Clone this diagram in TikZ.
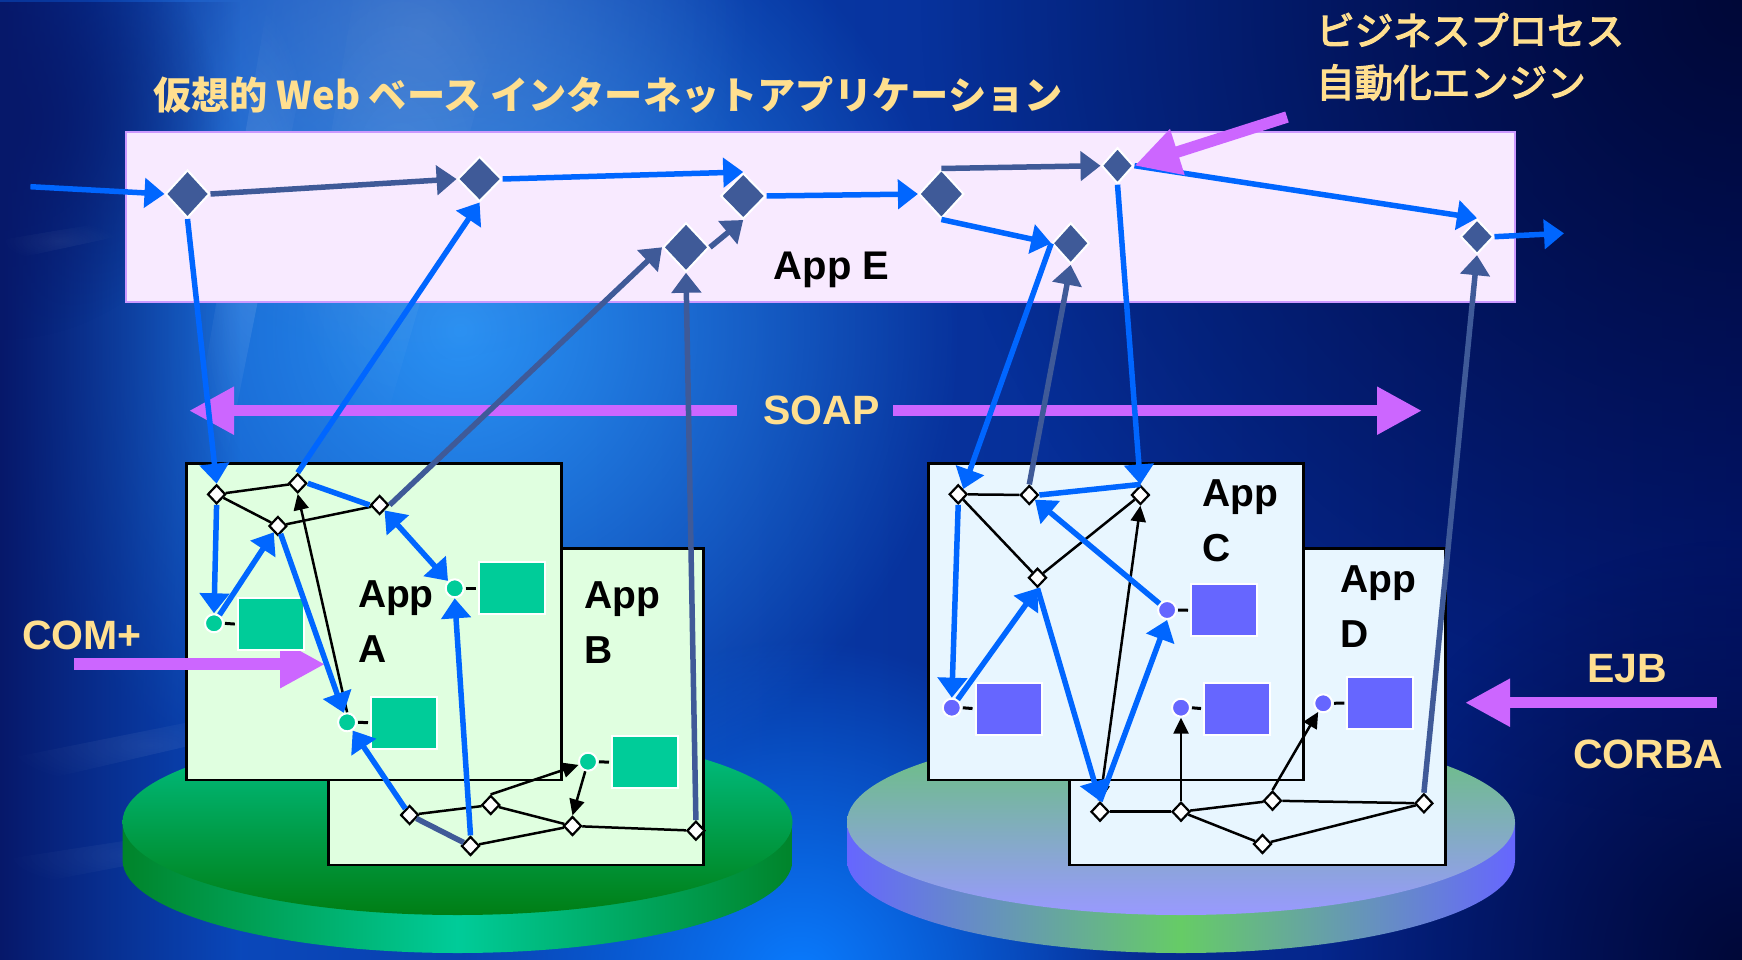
\documentclass[tikz,border=0pt]{standalone}
\usepackage{fontspec}
\setmainfont{Liberation Sans}
\newfontfamily\jpfont{Noto Sans CJK JP}
\newfontfamily\jpmedium[FakeBold=3.5]{Noto Sans CJK JP}
\usetikzlibrary{shapes.geometric,arrows.meta,fadings}

\definecolor{bgL}{HTML}{0B4FC4}
\definecolor{bgR}{HTML}{03197A}
\definecolor{glowA}{HTML}{2A92F4}
\definecolor{glowB}{HTML}{0A7CFF}
\definecolor{glowC}{HTML}{5A88D0}
\definecolor{darkA}{HTML}{000838}
\definecolor{darkB}{HTML}{06186A}
\definecolor{flowblue}{HTML}{0066FF}
\definecolor{slate}{HTML}{3F5A98}
\definecolor{orchid}{HTML}{CC66FF}
\definecolor{wheat}{HTML}{FFDF8F}
\definecolor{lilacbg}{HTML}{F8EAFF}
\definecolor{lilacline}{HTML}{CC99FF}
\definecolor{mintbg}{HTML}{E0FFE0}
\definecolor{skybg}{HTML}{E8F6FF}
\definecolor{compgreen}{HTML}{00CC99}
\definecolor{compviolet}{HTML}{6666FF}
\definecolor{discedge}{HTML}{00842A}
\definecolor{disctop}{HTML}{00C48C}
\definecolor{discbottom}{HTML}{007E14}
\definecolor{padgreen}{HTML}{66CC66}
\definecolor{padtop}{HTML}{66C474}
\definecolor{padbottom}{HTML}{9999FF}

\tikzfading[name=softglow, inner color=transparent!0, outer color=transparent!100]
\tikzfading[name=leftedge, left color=transparent!0, right color=transparent!100]

\tikzset{
  bigdia/.style 2 args={diamond, fill=slate, draw=white, line width=2pt,
    inner sep=0pt, minimum width=#1, minimum height=#2},
  smalldia/.style={diamond, fill=white, draw=black, line width=2.2pt,
    inner sep=0pt, minimum width=18, minimum height=19},
  gdot/.style={circle, fill=compgreen, draw=white, line width=2pt, inner sep=0pt, minimum size=18},
  vdot/.style={circle, fill=compviolet, draw=white, line width=2pt, inner sep=0pt, minimum size=18},
  gsq/.style={rectangle, fill=compgreen, draw=white, line width=2pt, inner sep=0pt,
    minimum width=66, minimum height=52},
  vsq/.style={rectangle, fill=compviolet, draw=white, line width=2pt, inner sep=0pt,
    minimum width=66, minimum height=52},
  appbox/.style={rectangle, draw=black, line width=2.6pt, inner sep=0pt},
  flow/.style={draw=flowblue, line width=5.5pt, -{Triangle[length=20pt,width=29pt]}},
  flowline/.style={draw=flowblue, line width=5.5pt},
  flowboth/.style={draw=flowblue, line width=5.5pt,
    {Triangle[length=20pt,width=29pt]}-{Triangle[length=20pt,width=29pt]}},
  call/.style={draw=slate, line width=5.5pt, -{Triangle[length=20pt,width=29pt]}},
  callline/.style={draw=slate, line width=5.5pt},
  link/.style={draw=black, line width=2.5pt},
  linkarrow/.style={draw=black, line width=2.5pt, -{Triangle[length=16pt,width=15pt]}},
  linkboth/.style={draw=black, line width=2.5pt,
    {Triangle[length=16pt,width=15pt]}-{Triangle[length=16pt,width=15pt]}},
  stub/.style={draw=black, line width=3pt, shorten <=1pt, shorten >=2pt},
  bigarrow/.style={draw=orchid, line width=11.5pt, -{Triangle[length=45pt,width=45pt]}},
  applabel/.style={anchor=north west, inner sep=0pt, align=left,
    font=\fontsize{39}{55}\selectfont\bfseries},
  tag/.style={inner sep=0pt, text=wheat, font=\fontsize{41}{48}\selectfont\bfseries},
}

\begin{document}
\begin{tikzpicture}[x=1pt,y=-1pt]
\useasboundingbox (0,0) rectangle (1742,960);

% ---------- backdrop ----------
\shade[left color=bgL, right color=bgR] (0,0) rectangle (1742,960);
\fill[glowA, path fading=softglow] (460,330) circle [radius=500];
\fill[glowC, opacity=0.6, path fading=softglow] (420,30) circle [radius=330];
\fill[glowB, path fading=softglow] (800,980) circle [radius=340];
\fill[darkA, path fading=softglow] (1742,0) circle [radius=820];
\fill[darkA, path fading=softglow] (1742,960) circle [radius=420];
\fill[darkB, path fading=leftedge] (0,0) rectangle (240,960);
\fill[darkB, path fading=softglow] (0,120) circle [radius=220];
\fill[white, opacity=0.14, path fading=softglow] (268,0) -- (318,0) -- (222,480) -- (186,480) -- cycle;
\fill[white, opacity=0.08, path fading=softglow] (360,-40) -- (520,-40) -- (380,440) -- (280,440) -- cycle;
\fill[white, opacity=0.07, path fading=softglow] (0,760) -- (300,700) -- (300,720) -- (0,790) -- cycle;
\fill[white, opacity=0.06, path fading=softglow] (0,860) -- (260,820) -- (260,840) -- (0,890) -- cycle;
\fill[white, opacity=0.06, path fading=softglow] (0,240) -- (120,220) -- (120,236) -- (0,262) -- cycle;

% ---------- platforms ----------
\shade[left color=discedge, right color=discedge, middle color=compgreen]
  (122.5,822) -- (122.5,860) arc[start angle=180, end angle=0, x radius=335, y radius=93]
  -- (792.5,822) -- cycle;
\shade[top color=disctop, bottom color=discbottom] (457.5,822) ellipse [x radius=335, y radius=93];

\shade[left color=compviolet, right color=compviolet, middle color=padgreen]
  (847,822) -- (847,860) arc[start angle=180, end angle=0, x radius=334, y radius=93]
  -- (1515,822) -- cycle;
\shade[top color=padtop, bottom color=padbottom] (1181,822) ellipse [x radius=334, y radius=93];

% ---------- application panels ----------
\node[appbox, fill=mintbg, minimum width=375, minimum height=316.7] (boxB) at (516.2,706.7) {};
\node[appbox, fill=mintbg, minimum width=375, minimum height=316.7] (boxA) at (374,621.7) {};
\node[appbox, fill=skybg, minimum width=376, minimum height=316.7] (boxD) at (1257.7,706.7) {};
\node[appbox, fill=skybg, minimum width=375, minimum height=316.7] (boxC) at (1116.1,621.7) {};
\node[rectangle, fill=lilacbg, draw=lilacline, line width=2pt, inner sep=0pt,
      minimum width=1388.8, minimum height=170] (boxE) at (820.1,216.7) {};

\node[applabel] (labA) at (357.8,580) {App\\A};
\node[applabel] (labB) at (584,581) {App\\B};
\node[applabel] (labC) at (1201.8,479) {App\\C};
\node[applabel] (labD) at (1340,565) {App\\D};
\node[inner sep=0pt, anchor=north west, font=\fontsize{40}{48}\selectfont\bfseries] (labE) at (773.6,252) {App E};

% ---------- headings ----------
\node[anchor=base west, inner sep=0pt, text=wheat, font=\fontsize{38.2}{46}\selectfont\jpfont\bfseries]
  (title) at (153,110) {仮想的 Web ベース インターネットアプリケーション};
\node[anchor=base west, inner sep=0pt, text=wheat, font=\fontsize{38.5}{46}\selectfont\jpmedium]
  (engine1) at (1316,45) {ビジネスプロセス};
\node[anchor=base west, inner sep=0pt, text=wheat, font=\fontsize{38.5}{46}\selectfont\jpmedium]
  (engine2) at (1316,97) {自動化エンジン};

% ---------- protocol arrows ----------
\node[tag] (soap) at (821.6,410.7) {SOAP};
\coordinate (soapl) at (189,410.7);
\coordinate (soapr) at (1422,410.7);
\draw[bigarrow, shorten <=26.6pt] (soap.west) -- (soapl);
\draw[bigarrow, shorten <=13.4pt] (soap.east) -- (soapr);

\node[tag] (com) at (82,635) {COM+};
\coordinate (comA) at (74,664.2);
\coordinate (comB) at (325,664.2);
\draw[bigarrow] (comA) -- (comB);

\node[tag] (ejb) at (1627,669) {EJB};
\node[tag] (corba) at (1648.4,754) {CORBA};
\coordinate (ejbA) at (1716.7,702.7);
\coordinate (ejbB) at (1465,702.7);
\draw[bigarrow] (ejbA) -- (ejbB);

% ---------- process steps in App E ----------
\node[bigdia={44}{48}] (E1) at (187.5,194) {};
\node[bigdia={44}{45}] (E2) at (479.6,179) {};
\node[bigdia={45}{46}] (E3) at (743.2,196) {};
\node[bigdia={46}{49}] (E4) at (686,247.3) {};
\node[bigdia={45}{49}] (E5) at (941.4,194) {};
\node[bigdia={37}{41}] (E6) at (1070.7,243.3) {};
\node[bigdia={32}{36}] (E7) at (1117.5,165.7) {};
\node[bigdia={33}{35}] (E8) at (1477,236.7) {};
\coordinate (inE) at (30.4,186.7);
\coordinate (outE) at (1564,233.3);

% ---------- App A / App B ----------
\node[smalldia] (a1) at (216.6,494.3) {};
\node[smalldia] (a2) at (297.7,483.3) {};
\node[smalldia] (a3) at (379.6,505) {};
\node[smalldia] (a4) at (277.9,526) {};
\node[smalldia] (b1) at (409.6,815) {};
\node[smalldia] (b2) at (490.7,805) {};
\node[smalldia] (b3) at (572.5,826) {};
\node[smalldia] (b4) at (470.5,846) {};
\node[smalldia] (b5) at (695.9,830.7) {};

\node[gdot] (cA1) at (214,623.3) {};
\node[gsq] (sqA1) at (270.8,624.2) {};
\node[gdot] (cA2) at (454.7,588.3) {};
\node[gsq] (sqA2) at (512,588.3) {};
\node[gdot] (cA3) at (347.1,722.3) {};
\node[gsq] (sqA3) at (404,722.7) {};
\node[gdot] (cB1) at (588,761.7) {};
\node[gsq] (sqB1) at (645,762.3) {};

% ---------- App C / App D ----------
\node[smalldia] (c1) at (958.2,494.3) {};
\node[smalldia] (c2) at (1029.3,495) {};
\node[smalldia] (c3) at (1140.4,495) {};
\node[smalldia] (c4) at (1037.5,577.7) {};
\node[smalldia] (d1) at (1100,811.7) {};
\node[smalldia] (d2) at (1181,811.7) {};
\node[smalldia] (d3) at (1272.5,800.7) {};
\node[smalldia] (d4) at (1262.5,844) {};
\node[smalldia] (d5) at (1423.9,803.3) {};

\node[vdot] (cC1) at (951.8,707.7) {};
\node[vsq] (sqC1) at (1008.5,708.7) {};
\node[vdot] (cC2) at (1167.1,610) {};
\node[vsq] (sqC2) at (1224,610.3) {};
\node[vdot] (cC3) at (1181,707.7) {};
\node[vsq] (sqC3) at (1237,708.7) {};
\node[vdot] (cD1) at (1323.2,703.3) {};
\node[vsq] (sqD1) at (1380.3,703) {};

% ---------- component stubs ----------
\foreach \c/\s in {cA1/sqA1, cA2/sqA2, cA3/sqA3, cB1/sqB1, cC1/sqC1, cC2/sqC2, cC3/sqC3, cD1/sqD1}
  \draw[stub] (\c.east) -- (\s.west);

% ---------- wiring inside the panels ----------
\draw[link] (a1) -- (a2);
\draw[link] (a1) -- (a4);
\draw[link] (a4) -- (a3);
\draw[link] (b1) -- (b2);
\draw[link] (b2) -- (b3);
\draw[link] (b4) -- (b3);
\draw[link] (b3) -- (b5);
\draw[linkarrow] (b2.north) -- (cB1);
\draw[linkarrow] (cB1) -- (b3.north);
\draw[linkarrow] (cA3.north) -- (a2.south);
\draw[callline] (b1) -- (b4);

\draw[link] (c1) -- (c2);
\draw[link] (c1) -- (c4);
\draw[link] (c4) -- (c3);
\draw[link] (d1) -- (d2);
\draw[link] (d2) -- (d3);
\draw[link] (d2) -- (d4);
\draw[link] (d4) -- (d5);
\draw[link] (d3) -- (d5);
\draw[linkarrow] (d2.north) -- (cC3.south);
\draw[linkarrow] (d3.north) -- (cD1);
\draw[linkboth] (d1.north) -- (c3.south);

% blue flow through the components
\draw[flowline] (a2.east) -- (a3.west);
\draw[flowboth] (a3) -- (cA2);
\draw[flow] (a1.south) -- (cA1.north);
\draw[flow] (cA1) -- (a4);
\draw[flow] (a4) -- (cA3);
\draw[flow] (b1) -- (cA3);
\draw[flow] (b4.north) -- (cA2.south);

\draw[flowline] (c3.north) -- (c2.east);
\draw[flow] (cC2) -- (c2);
\draw[flow] (c1.south) -- (cC1.north);
\draw[flow] (cC1) -- (c4.south);
\draw[flow] (c4.south) -- (d1.north);
\draw[flow] (d1.north) -- (cC2.south);

% ---------- process flow in App E ----------
\draw[flow] (inE) -- (E1.west);
\draw[call] (E1.east) -- (E2.west);
\draw[flow] (E2.east) -- (E3.north);
\draw[flow] (E3.east) -- (E5.west);
\draw[call] (E5.north) -- (E7.west);
\draw[flow] (E5.south) -- (E6.west);
\draw[call] (E4.east) -- (E3.south);
\draw[flow] (E7.east) -- (E8.north);
\draw[flow] (E8.east) -- (outE);

% ---------- links between App E and the panels ----------
\draw[flow] (E1.south) -- (a1.north);
\draw[flow] (a2.north) -- (E2.south);
\draw[call] (a3.east) -- (E4.west);
\draw[call] (b5.north) -- (E4.south);
\draw[flow] (E6.west) -- (c1.north east);
\draw[call] (c2.north) -- (E6.south);
\draw[flow] (E7.south) -- (c3.north);
\draw[call] (d5.north) -- (E8.south);

% ---------- engine pointer ----------
\coordinate (engA) at (1287,117);
\draw[bigarrow] (engA) -- (E7.east);

\end{tikzpicture}
\end{document}
